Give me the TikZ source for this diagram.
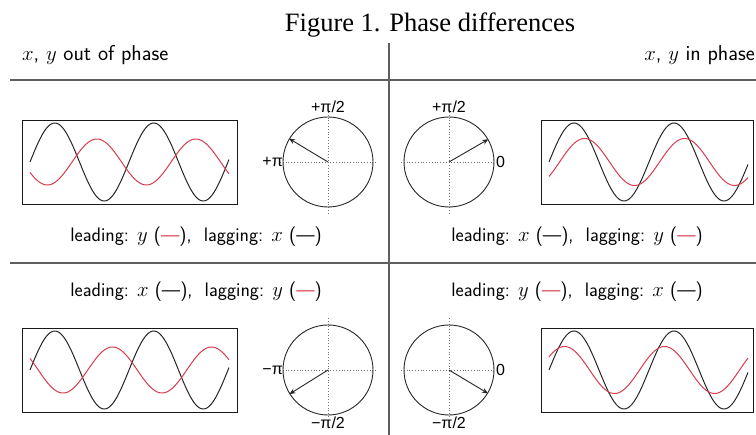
\documentclass[tikz,border=0pt]{standalone}
\usepackage{fontspec}
\usepackage{amsmath}
\setmainfont{Latin Modern Roman}
\newfontfamily\titlefont{Liberation Serif}
\newfontfamily\lblfont{Liberation Sans}
\usetikzlibrary{arrows.meta}
\definecolor{wred}{RGB}{215,60,80}
\definecolor{rulegray}{RGB}{95,95,95}
\begin{document}
\begin{tikzpicture}[x=1pt,y=-1pt,
  rulex/.style={line width=1.6pt,draw=rulegray},
  wavebox/.style={draw=black!90,line width=0.9pt},
  bwave/.style={draw=black!85,line width=1pt},
  rwave/.style={draw=wred,line width=1pt},
  phcirc/.style={draw=black!85,line width=0.9pt},
  phaxis/.style={draw=black!55,line width=0.8pt,dotted},
  pharrow/.style={draw=black!85,line width=0.9pt,-{Stealth[length=6pt,width=5pt]}},
  phlbl/.style={font=\lblfont\fontsize{16}{16}\selectfont,inner sep=1pt},
  captxt/.style={font=\sffamily\fontsize{19.5}{19.5}\selectfont,inner sep=0pt},
  hdr/.style={font=\sffamily\fontsize{21.5}{21.5}\selectfont,inner sep=0pt}]
\useasboundingbox (0,0) rectangle (756,435);
% title
\node[font=\titlefont\fontsize{26.5}{26.5}\selectfont,inner sep=0pt,anchor=base] (title) at (430,32) {Figure 1. Phase differences};
% rules
\coordinate (hl1a) at (10,80); \coordinate (hl1b) at (756,80);
\coordinate (hl2a) at (10,263); \coordinate (hl2b) at (756,263);
\coordinate (vla) at (389,43); \coordinate (vlb) at (389,435);
\draw[rulex] (hl1a) -- (hl1b);
\draw[rulex] (hl2a) -- (hl2b);
\draw[rulex] (vla) -- (vlb);
% headers
\node[hdr,anchor=base west] (hleft) at (22,61) {$x$, $y$ out of phase};
\node[hdr,anchor=base east] (hright) at (755,61) {$x$, $y$ in phase};
% ---------- top-left
\node[wavebox,minimum width=215pt,minimum height=84pt,inner sep=0pt] (boxTL) at (129.5,162) {};
\draw[bwave] plot[domain=30:229,samples=160,smooth] (\x,{162-39*sin((\x-30)/99*360)});
\draw[rwave] plot[domain=30:229,samples=160,smooth] (\x,{162-23*sin((\x-30)/99*360-153)});
\coordinate (cTL) at (328,162);
\draw[phaxis] (280,162) -- (377,162);
\draw[phaxis] (328,112) -- (328,215);
\node[phcirc,circle,minimum size=90pt,inner sep=0pt] (circTL) at (cTL) {};
\draw[pharrow] (cTL) -- (circTL.149);
\node[phlbl,anchor=south] (lTLa) at (328,114) {+π/2};
\node[phlbl,anchor=east] (lTLb) at (284,162) {+π};
\node[captxt,anchor=base] (capTL) at (196,242) {leading: $y$ (\textcolor{wred}{—}),\ \ lagging: $x$ (—)};
% ---------- top-right
\coordinate (cTR) at (449,162);
\draw[phaxis] (401,162) -- (495,162);
\draw[phaxis] (449,112) -- (449,215);
\node[phcirc,circle,minimum size=90pt,inner sep=0pt] (circTR) at (cTR) {};
\draw[pharrow] (cTR) -- (circTR.30);
\node[phlbl,anchor=south] (lTRa) at (449,114) {+π/2};
\node[phlbl,anchor=west] (lTRb) at (495,162) {0};
\node[wavebox,minimum width=212pt,minimum height=84pt,inner sep=0pt] (boxTR) at (647,162) {};
\draw[bwave] plot[domain=549:748,samples=160,smooth] (\x,{162-39*sin((\x-549)/100*360)});
\draw[rwave] plot[domain=549:748,samples=160,smooth] (\x,{162-23.5*sin((\x-549)/100*360-38)});
\node[captxt,anchor=base] (capTR) at (577,242) {leading: $x$ (—),\ \ lagging: $y$ (\textcolor{wred}{—})};
% ---------- bottom-left
\node[captxt,anchor=base] (capBL) at (196,297) {leading: $x$ (—),\ \ lagging: $y$ (\textcolor{wred}{—})};
\node[wavebox,minimum width=215pt,minimum height=84pt,inner sep=0pt] (boxBL) at (129.5,370) {};
\draw[bwave] plot[domain=30:229,samples=160,smooth] (\x,{370-39*sin((\x-30)/99*360)});
\draw[rwave] plot[domain=30:229,samples=160,smooth] (\x,{370-23*sin((\x-30)/99*360-210)});
\coordinate (cBL) at (328,370);
\draw[phaxis] (280,370) -- (377,370);
\draw[phaxis] (328,318) -- (328,418);
\node[phcirc,circle,minimum size=90pt,inner sep=0pt] (circBL) at (cBL) {};
\draw[pharrow] (cBL) -- (circBL.212);
\node[phlbl,anchor=north] (lBLa) at (328,416) {−π/2};
\node[phlbl,anchor=east] (lBLb) at (284,370) {−π};
% ---------- bottom-right
\node[captxt,anchor=base] (capBR) at (577,297) {leading: $y$ (\textcolor{wred}{—}),\ \ lagging: $x$ (—)};
\coordinate (cBR) at (449,370);
\draw[phaxis] (401,370) -- (495,370);
\draw[phaxis] (449,318) -- (449,418);
\node[phcirc,circle,minimum size=90pt,inner sep=0pt] (circBR) at (cBR) {};
\draw[pharrow] (cBR) -- (circBR.-31);
\node[phlbl,anchor=north] (lBRa) at (449,416) {−π/2};
\node[phlbl,anchor=west] (lBRb) at (495,370) {0};
\node[wavebox,minimum width=212pt,minimum height=84pt,inner sep=0pt] (boxBR) at (647,370) {};
\draw[bwave] plot[domain=549:748,samples=160,smooth] (\x,{370-39*sin((\x-549)/100*360)});
\draw[rwave] plot[domain=549:748,samples=160,smooth] (\x,{370-23.5*sin((\x-549)/100*360+34)});
\end{tikzpicture}
\end{document}
